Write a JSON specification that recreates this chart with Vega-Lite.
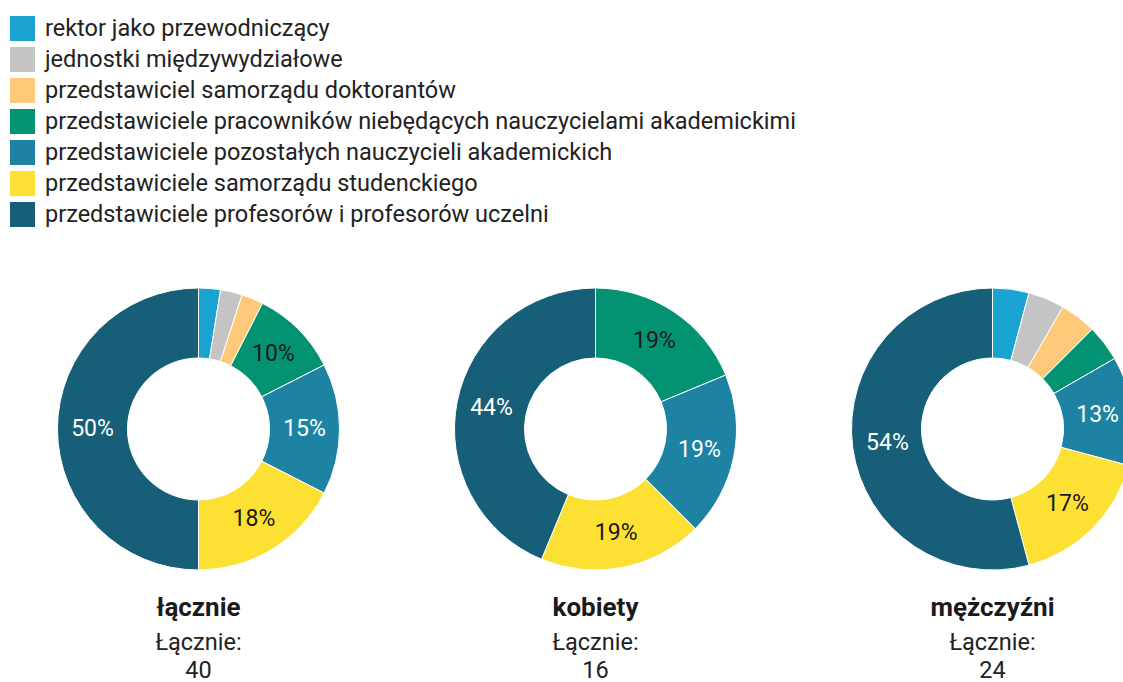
{
  "$schema": "https://vega.github.io/schema/vega-lite/v6.json",
  "padding": {"left": 0, "top": 6, "right": 0, "bottom": 0},
  "datasets": {
    "rows": [
      {"group": "łącznie", "cat": "rektor jako przewodniczący", "order": 1, "n": 1, "label": ""},
      {"group": "łącznie", "cat": "jednostki międzywydziałowe", "order": 2, "n": 1, "label": ""},
      {"group": "łącznie", "cat": "przedstawiciel samorządu doktorantów", "order": 3, "n": 1, "label": ""},
      {"group": "łącznie", "cat": "przedstawiciele pracowników niebędących nauczycielami akademickimi", "order": 4, "n": 4, "label": "10%"},
      {"group": "łącznie", "cat": "przedstawiciele pozostałych nauczycieli akademickich", "order": 5, "n": 6, "label": "15%"},
      {"group": "łącznie", "cat": "przedstawiciele samorządu studenckiego", "order": 6, "n": 7, "label": "18%"},
      {"group": "łącznie", "cat": "przedstawiciele profesorów i profesorów uczelni", "order": 7, "n": 20, "label": "50%"},
      {"group": "kobiety", "cat": "przedstawiciele pracowników niebędących nauczycielami akademickimi", "order": 4, "n": 3, "label": "19%"},
      {"group": "kobiety", "cat": "przedstawiciele pozostałych nauczycieli akademickich", "order": 5, "n": 3, "label": "19%"},
      {"group": "kobiety", "cat": "przedstawiciele samorządu studenckiego", "order": 6, "n": 3, "label": "19%"},
      {"group": "kobiety", "cat": "przedstawiciele profesorów i profesorów uczelni", "order": 7, "n": 7, "label": "44%"},
      {"group": "mężczyźni", "cat": "rektor jako przewodniczący", "order": 1, "n": 1, "label": ""},
      {"group": "mężczyźni", "cat": "jednostki międzywydziałowe", "order": 2, "n": 1, "label": ""},
      {"group": "mężczyźni", "cat": "przedstawiciel samorządu doktorantów", "order": 3, "n": 1, "label": ""},
      {"group": "mężczyźni", "cat": "przedstawiciele pracowników niebędących nauczycielami akademickimi", "order": 4, "n": 1, "label": ""},
      {"group": "mężczyźni", "cat": "przedstawiciele pozostałych nauczycieli akademickich", "order": 5, "n": 3, "label": "13%"},
      {"group": "mężczyźni", "cat": "przedstawiciele samorządu studenckiego", "order": 6, "n": 4, "label": "17%"},
      {"group": "mężczyźni", "cat": "przedstawiciele profesorów i profesorów uczelni", "order": 7, "n": 13, "label": "54%"}
    ]
  },
  "spacing": 0,
  "hconcat": [
    {
      "width": 397, "height": 282,
      "data": {"name": "rows"},
      "transform": [{"filter": "datum.group == 'łącznie'"}],
      "title": {"text": "łącznie", "subtitle": ["Łącznie:", "40"]},
      "layer": [
        {"mark": {"type": "arc", "outerRadius": 141, "innerRadius": 71, "stroke": "white", "strokeWidth": 1},
         "encoding": {
           "theta": {"field": "n", "type": "quantitative", "stack": true},
           "order": {"field": "order", "type": "quantitative"},
           "color": {"field": "cat", "type": "nominal", "sort": null, "scale": {"domain": ["rektor jako przewodniczący", "jednostki międzywydziałowe", "przedstawiciel samorządu doktorantów", "przedstawiciele pracowników niebędących nauczycielami akademickimi", "przedstawiciele pozostałych nauczycieli akademickich", "przedstawiciele samorządu studenckiego", "przedstawiciele profesorów i profesorów uczelni"], "range": ["#1aa3d0", "#c4c4c4", "#fec978", "#049372", "#1e82a2", "#fde034", "#175f78"]}}
         }},
        {"mark": {"type": "text", "radius": 106, "fontSize": 23, "font": "Roboto"},
         "encoding": {
           "theta": {"field": "n", "type": "quantitative", "stack": true},
           "order": {"field": "order", "type": "quantitative"},
           "text": {"field": "label"},
           "color": {"condition": {"test": "datum.order == 5 || datum.order == 7", "value": "#ffffff"}, "value": "#1a1a1a"}
         }}
      ]
    },
    {
      "width": 397, "height": 282,
      "data": {"name": "rows"},
      "transform": [{"filter": "datum.group == 'kobiety'"}],
      "title": {"text": "kobiety", "subtitle": ["Łącznie:", "16"]},
      "layer": [
        {"mark": {"type": "arc", "outerRadius": 141, "innerRadius": 71, "stroke": "white", "strokeWidth": 1},
         "encoding": {
           "theta": {"field": "n", "type": "quantitative", "stack": true},
           "order": {"field": "order", "type": "quantitative"},
           "color": {"field": "cat", "type": "nominal", "sort": null}
         }},
        {"mark": {"type": "text", "radius": 106, "fontSize": 23, "font": "Roboto"},
         "encoding": {
           "theta": {"field": "n", "type": "quantitative", "stack": true},
           "order": {"field": "order", "type": "quantitative"},
           "text": {"field": "label"},
           "color": {"condition": {"test": "datum.order == 5 || datum.order == 7", "value": "#ffffff"}, "value": "#1a1a1a"}
         }}
      ]
    },
    {
      "width": 397, "height": 282,
      "data": {"name": "rows"},
      "transform": [{"filter": "datum.group == 'mężczyźni'"}],
      "title": {"text": "mężczyźni", "subtitle": ["Łącznie:", "24"]},
      "layer": [
        {"mark": {"type": "arc", "outerRadius": 141, "innerRadius": 71, "stroke": "white", "strokeWidth": 1},
         "encoding": {
           "theta": {"field": "n", "type": "quantitative", "stack": true},
           "order": {"field": "order", "type": "quantitative"},
           "color": {"field": "cat", "type": "nominal", "sort": null}
         }},
        {"mark": {"type": "text", "radius": 106, "fontSize": 23, "font": "Roboto"},
         "encoding": {
           "theta": {"field": "n", "type": "quantitative", "stack": true},
           "order": {"field": "order", "type": "quantitative"},
           "text": {"field": "label"},
           "color": {"condition": {"test": "datum.order == 5 || datum.order == 7", "value": "#ffffff"}, "value": "#1a1a1a"}
         }}
      ]
    }
  ],
  "resolve": {"scale": {"color": "shared"}},
  "config": {
    "view": {"stroke": null},
    "font": "Roboto",
    "title": {
      "orient": "bottom", "anchor": "middle", "offset": 23,
      "fontSize": 26, "fontWeight": "bold", "color": "#1a1a1a", "font": "Roboto",
      "subtitleFontSize": 23.5, "subtitleColor": "#222222", "subtitleFont": "Roboto",
      "subtitleLineHeight": 28, "subtitlePadding": 10
    },
    "legend": {
      "orient": "top", "direction": "vertical", "title": null,
      "padding": 10, "offset": 49,
      "symbolType": "square", "symbolSize": 625, "symbolStrokeWidth": 0, "symbolOpacity": 1,
      "labelFontSize": 23.5, "labelFont": "Roboto", "labelColor": "#222222", "labelOffset": 10,
      "rowPadding": 6, "labelLimit": 1000
    }
  },
  "encoding": {}
}
